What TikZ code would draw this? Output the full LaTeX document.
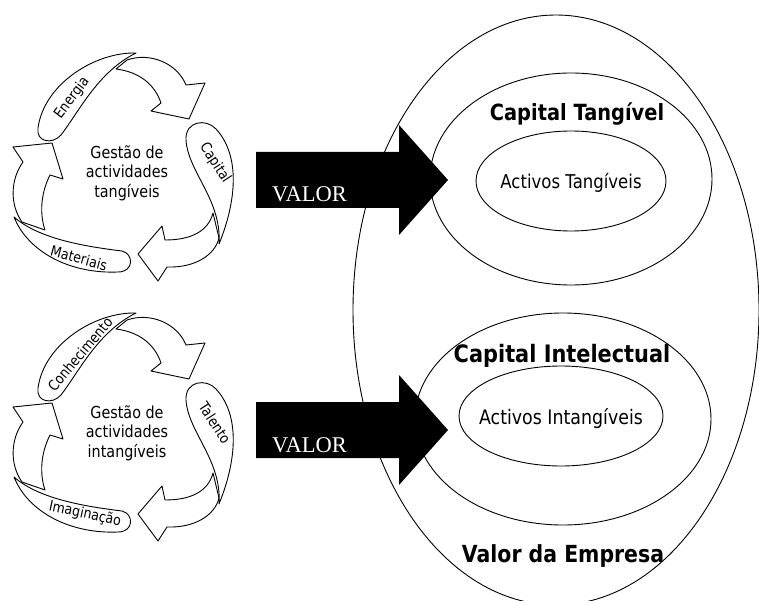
\documentclass[tikz,border=0pt]{standalone}
\usepackage{fontspec}
\setmainfont[FakeStretch=0.87]{DejaVu Sans}
\newfontfamily\valorfont{Liberation Serif}
\usetikzlibrary{shapes.geometric}

\tikzset{
  outline/.style={draw=black, line width=0.9pt, fill=white, line join=round},
  ring/.style={ellipse, draw=black, line width=0.9pt, inner sep=0pt},
  blockarrow/.style={fill=black},
  centretext/.style={align=center, inner sep=0pt, font=\fontsize{16.5}{19.5}\selectfont},
  leaftext/.style={inner sep=0pt, font=\fontsize{14.5}{15}\selectfont},
  valortext/.style={anchor=base west, inner sep=0pt, text=white, font=\valorfont\fontsize{22.5}{24}\selectfont},
  boldlabel/.style={anchor=base, inner sep=0pt},
  plainlabel/.style={anchor=base, inner sep=0pt},
}

% three curved arrows and three leaf-shaped tags of one cycle
\newcommand\cycleshapes{%
  \draw[outline] (116,69) -- (127,60) .. controls (150,52) and (177,63) .. (186,85)
    -- (205,83) -- (189,119) -- (151,111) -- (161,103)
    .. controls (155,85) and (140,72) .. (116,69) -- cycle;
  \draw[outline] (213,213) .. controls (208,232) and (190,240) .. (165,240)
    -- (162,226) -- (138,254) -- (158,281) -- (167,267)
    .. controls (195,268) and (215,255) .. (219,238) -- cycle;
  \draw[outline] (45,230) -- (22,222) .. controls (10,205) and (10,180) .. (23,162)
    -- (13,147) -- (52,143) -- (63,179) -- (50,175)
    .. controls (40,195) and (40,215) .. (45,230) -- cycle;
  \draw[outline] (136,53) .. controls (95,52) and (44,84) .. (38,128)
    .. controls (36,142) and (52,145) .. (61,135)
    .. controls (80,110) and (98,72) .. (136,53) -- cycle;
  \draw[outline] (219,244) .. controls (222,200) and (188,172) .. (186,140)
    .. controls (185,121) and (206,118) .. (216,129)
    .. controls (240,155) and (237,200) .. (219,244) -- cycle;
  \draw[outline] (14,217) .. controls (40,240) and (90,247) .. (122,251)
    .. controls (134,254) and (134,272) .. (118,272)
    .. controls (70,274) and (28,252) .. (14,217) -- cycle;
}

\begin{document}
\begin{tikzpicture}[x=1pt,y=-1pt]
  \clip (0,0) rectangle (759,601);

  % nested value ellipses
  \node[ring, minimum width=406pt, minimum height=590pt] (empresa) at (556,310) {};
  \node[ring, minimum width=282pt, minimum height=212pt] (captang) at (571,179) {};
  \node[ring, minimum width=190pt, minimum height=100pt] (acttang) at (571,181) {};
  \node[ring, minimum width=296pt, minimum height=212pt] (capint) at (563,419) {};
  \node[ring, minimum width=204pt, minimum height=100pt] (actint) at (561,416) {};

  \node[boldlabel, font=\bfseries\fontsize{22.3}{24}\selectfont] (lcaptang) at (577,121) {Capital Tangível};
  \node[plainlabel, font=\fontsize{19}{21}\selectfont] (lacttang) at (571,189) {Activos Tangíveis};
  \node[boldlabel, font=\bfseries\fontsize{24}{26}\selectfont] (lcapint) at (562,362) {Capital Intelectual};
  \node[plainlabel, font=\fontsize{20}{22}\selectfont] (lactint) at (561,424) {Activos Intangíveis};
  \node[boldlabel, font=\bfseries\fontsize{23.5}{25}\selectfont] (lempresa) at (563,562) {Valor da Empresa};

  % upper cycle: tangible activities
  \begin{scope}
    \cycleshapes
    \node[centretext] (gtang) at (127,173) {Gestão de\\actividades\\tangíveis};
    \node[leaftext, rotate=53] (energia) at (72,98) {Energia};
    \node[leaftext, rotate=-57] (capital) at (215,163) {Capital};
    \node[leaftext, rotate=-15] (materiais) at (79,258) {Materiais};
  \end{scope}

  % lower cycle: intangible activities
  \begin{scope}[shift={(0,260)}]
    \cycleshapes
    \node[centretext] (gintang) at (127,173) {Gestão de\\actividades\\intangíveis};
    \node[leaftext, rotate=50] (conhecimento) at (80,94) {Conhecimento};
    \node[leaftext, rotate=-57] (talento) at (215,163) {Talento};
    \node[leaftext, rotate=-12] (imaginacao) at (85,254) {Imaginação};
  \end{scope}

  % value arrows
  \fill[blockarrow] (256,152) -- (399,152) -- (399,125) -- (448,180) -- (399,235)
    -- (399,208) -- (256,208) -- cycle;
  \node[valortext] (valor1) at (272,202) {VALOR};
  \fill[blockarrow] (256,402) -- (399,402) -- (399,375) -- (448,430) -- (399,485)
    -- (399,458) -- (256,458) -- cycle;
  \node[valortext] (valor2) at (272,452) {VALOR};
\end{tikzpicture}
\end{document}
